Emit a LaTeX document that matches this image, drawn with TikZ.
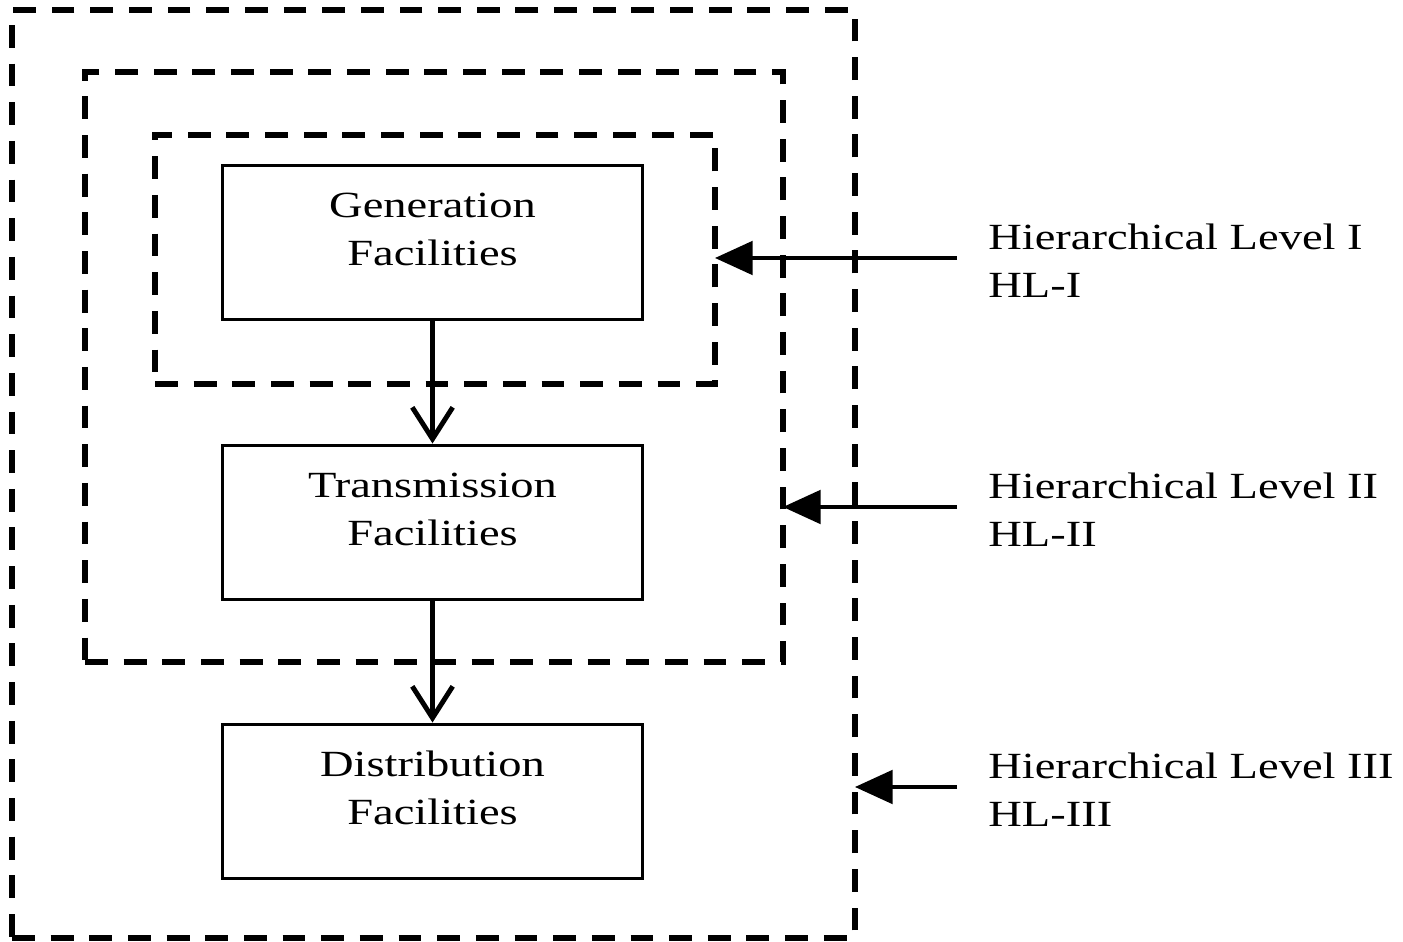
\documentclass[tikz,border=0pt]{standalone}
\usepackage{fontspec}
\setmainfont[FakeStretch=1.26]{Liberation Serif}
\usetikzlibrary{arrows.meta}
\tikzset{
  facility/.style = {shape=rectangle, draw, line width=1.7pt,
                     minimum width=8.42cm, minimum height=3.1cm,
                     align=center, text depth=15.4pt},
  frame/.style    = {shape=rectangle, draw, line width=3.4pt,
                     dash pattern=on 13pt off 9pt, inner sep=0pt, outer sep=0pt},
  hltext/.style   = {anchor=west, align=left, inner sep=0pt},
  flow/.style     = {draw, line width=2.8pt,
                     -{Straight Barb[length=18pt, width=23pt, line width=2.8pt]}},
  point/.style    = {draw, line width=2.4pt,
                     -{Triangle[length=21.5pt, width=19pt]}}
}
\begin{document}
\begin{tikzpicture}
  [
    x = 0.02cm, y = -0.02cm,
    every node/.style = {font=\fontsize{21pt}{27.3pt}\selectfont}
  ]
  \useasboundingbox (0,0) rectangle (1403,942);
  % nested levels
  \node [frame, minimum width=16.86cm, minimum height=18.56cm] (L3) at (433.5,474) {};
  \node [frame, minimum width=13.96cm, minimum height=11.8cm] (L2) at (434,367) {};
  \node [frame, minimum width=11.2cm, minimum height=5cm] (L1) at (435,259.5) {};
  % facilities
  \node [facility] (G) at (432.5,242.5) {Generation\\Facilities};
  \node [facility] (T) at (432.5,522.5) {Transmission\\Facilities};
  \node [facility] (D) at (432.5,801.5) {Distribution\\Facilities};
  \draw [flow] (G) -- (T);
  \draw [flow] (T) -- (D);
  % level labels
  \node [hltext] (H1) at (988,261) {Hierarchical Level I\\HL-I};
  \node [hltext] (H2) at (988,510) {Hierarchical Level II\\HL-II};
  \node [hltext] (H3) at (988,790) {Hierarchical Level III\\HL-III};
  \draw [point] ([xshift=-0.62cm, yshift=0.06cm]H1.west) coordinate (A1) -- (A1 -| L1.east);
  \draw [point] ([xshift=-0.62cm, yshift=0.06cm]H2.west) coordinate (A2) -- (A2 -| L2.east);
  \draw [point] ([xshift=-0.62cm, yshift=0.06cm]H3.west) coordinate (A3) -- (A3 -| L3.east);
\end{tikzpicture}
\end{document}
